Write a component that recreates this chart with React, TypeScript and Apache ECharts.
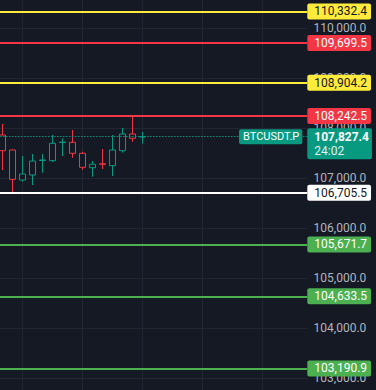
import React, { useEffect, useRef } from 'react';
import * as echarts from 'echarts';

// ---- data ----
const times = [
  '10:00', '11:00', '12:00', '13:00', '14:00', '15:00', '16:00', '17:00',
  '18:00', '19:00', '20:00', '21:00', '22:00', '23:00', '00:00', '01:00',
  '02:00', '03:00', '04:00', '05:00', '06:00', '07:00', '08:00', '09:00',
  '10:00 ', '11:00 ', '12:00 ', '13:00 ', '14:00 ', '15:00 ', '16:00 ',
];
const opens = [107860, 107560, 106960, 107060, 107350, 107346, 107710, 107714, 107494, 107206, 107285, 107246, 107546, 107880, 107820];
const closes = [107546, 106973, 107080, 107340, 107360, 107694, 107718, 107494, 107214, 107274, 107275, 107560, 107880, 107794, 107827.4];
const lows = [107160, 106706, 106926, 106860, 107106, 107320, 107440, 107406, 107166, 107026, 107180, 107040, 107506, 107726, 107686];
const highs = [108080, 107570, 107440, 107480, 107480, 107860, 107794, 107960, 107526, 107340, 107580, 107860, 108000, 108240, 107920];

const levelPrices = [110332.4, 109699.5, 108904.2, 108242.5, 106705.5, 105671.7, 104633.5, 103190.9];
const levelKinds = ['target', 'resistance', 'target', 'resistance', 'pivot', 'support', 'support', 'support'];

const symbolName = 'BTCUSDT.P';
const lastPrice = 107827.4;
const countdown = '24:02';

const gridColumns = ['12:00', '18:00', '00:00', '06:00', '12:00 '];

const yMin = 102000;
const yMax = 111000;
const yStep = 1000;

// ---- styles ----
const BG = '#151924';
const GRID = '#232733';
const UP = '#089981';
const DOWN = '#f23645';
const FONT = 'Roboto, "Noto Sans", sans-serif';
const kindStyle: Record<string, { line: string; text: string }> = {
  target: { line: '#ffeb3b', text: '#131722' },
  resistance: { line: '#f23645', text: '#ffffff' },
  pivot: { line: '#ffffff', text: '#131722' },
  support: { line: '#4caf50', text: '#ffffff' },
};

const fmt = (v: number) =>
  v.toLocaleString('en-US', { minimumFractionDigits: 1, maximumFractionDigits: 1 });

export default function App() {
  const ref = useRef<HTMLDivElement>(null);
  useEffect(() => {
    if (!ref.current) return;
    const chart = echarts.init(ref.current, undefined, { renderer: 'svg' });
    const candleData = opens.map((o, i) => [o, closes[i], lows[i], highs[i]]);

    const levelLines = levelPrices.map((p, i) => {
      const s = kindStyle[levelKinds[i]];
      return {
        yAxis: p,
        lineStyle: { color: s.line, width: 2, type: 'solid' },
        label: {
          show: true,
          position: 'end',
          distance: 0,
          formatter: fmt(p),
          backgroundColor: s.line,
          color: s.text,
          fontFamily: FONT,
          fontSize: 12,
          lineHeight: 14,
          padding: [1, 4, 1, 7],
          borderRadius: 2,
        },
      };
    });

    const dotted = { color: UP, width: 1, type: [1, 2] };
    const lastLines = [
      {
        yAxis: lastPrice,
        lineStyle: dotted,
        label: {
          show: true,
          position: 'insideEnd',
          distance: 5,
          formatter: symbolName,
          backgroundColor: UP,
          color: '#ffffff',
          fontFamily: FONT,
          fontSize: 11,
          lineHeight: 13,
          padding: [1, 3, 1, 4],
          borderRadius: 2,
        },
      },
      {
        yAxis: lastPrice,
        lineStyle: dotted,
        label: {
          show: true,
          position: 'end',
          distance: 0,
          offset: [0, 7],
          formatter: `{p|${fmt(lastPrice)}}\n{t|${countdown}}`,
          backgroundColor: UP,
          padding: [2, 3, 1, 7],
          borderRadius: 2,
          rich: {
            p: { color: '#ffffff', fontFamily: FONT, fontSize: 12, lineHeight: 14, fontWeight: 'bold' },
            t: { color: '#e0f2ee', fontFamily: FONT, fontSize: 12, lineHeight: 14 },
          },
        },
      },
    ];

    chart.setOption({
      animation: false,
      backgroundColor: BG,
      grid: { left: -2.7, right: 68.7, top: -22, bottom: -38, outerBoundsMode: 'none', containLabel: false },
      xAxis: { type: 'category', data: times, boundaryGap: true, show: false },
      yAxis: {
        type: 'value',
        position: 'right',
        min: yMin,
        max: yMax,
        interval: yStep,
        axisLine: { show: false },
        axisTick: { show: false },
        splitLine: { lineStyle: { color: GRID, width: 1 } },
        axisLabel: {
          color: '#b2b5be',
          fontSize: 12,
          fontFamily: FONT,
          align: 'right',
          margin: 59,
          showMinLabel: false,
          showMaxLabel: false,
          formatter: (v: number) => fmt(v),
        },
      },
      series: [
        {
          type: 'line',
          data: [],
          silent: true,
          markLine: {
            silent: true,
            symbol: 'none',
            z: 1,
            label: { show: false },
            lineStyle: { color: GRID, width: 1, type: 'solid' },
            data: gridColumns.map((c) => ({ xAxis: c })),
          },
        },
        {
          type: 'candlestick',
          data: candleData,
          barWidth: 6,
          z: 3,
          itemStyle: {
            color: BG,
            color0: BG,
            borderColor: UP,
            borderColor0: DOWN,
            borderWidth: 1,
          },
          markLine: {
            silent: true,
            symbol: 'none',
            z: 5,
            data: [...levelLines, ...lastLines],
          },
        },
      ],
    });
    return () => chart.dispose();
  }, []);
  return (
    <div
      ref={ref}
      style={{ position: 'fixed', left: 0, top: 0, width: 376, height: 390 }}
    />
  );
}
